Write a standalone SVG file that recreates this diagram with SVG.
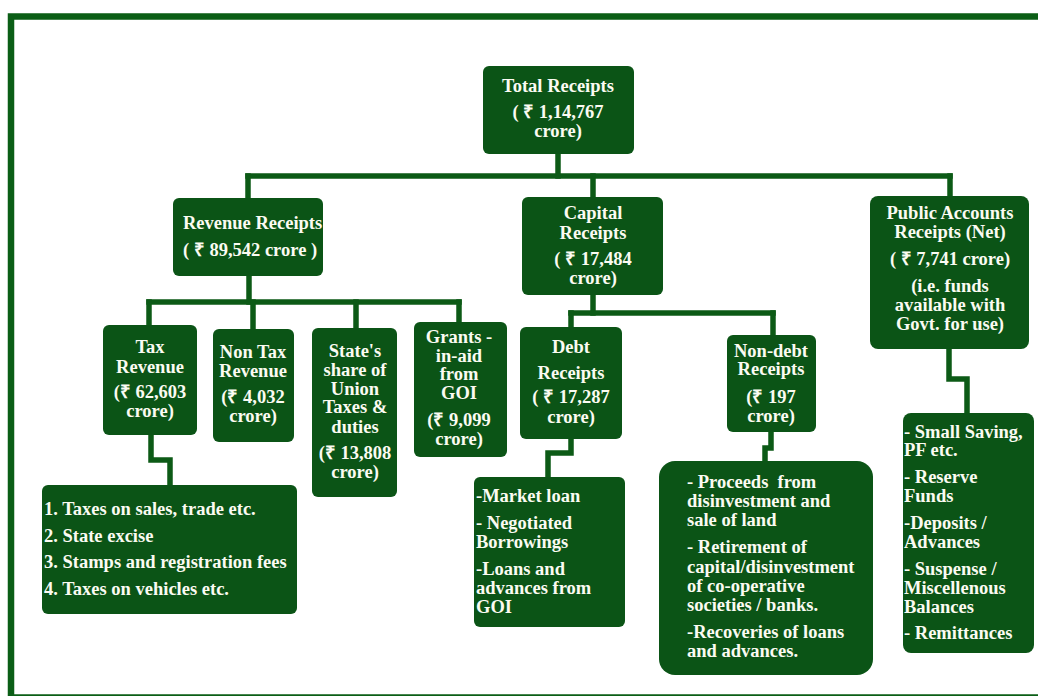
<svg xmlns="http://www.w3.org/2000/svg" width="1038" height="696" viewBox="0 0 1038 696">
<style>
.box{fill:#0b5416;}
.t{font-family:"Liberation Serif","Times New Roman",serif;font-weight:bold;font-size:18.5px;fill:#fbfbf2;}
.c{text-anchor:middle;}
.conn path{fill:none;stroke:#0c5a16;stroke-width:5.5;stroke-linecap:square;stroke-linejoin:miter;}
</style>
<rect width="1038" height="696" fill="#ffffff"/>
<rect x="11" y="16.5" width="1040" height="681" fill="none" stroke="#0b5e16" stroke-width="6.5"/>
<g id="connectors" class="conn">
<path d="M558,154 V176"/>
<path d="M248,176 H950"/>
<path d="M248,176 V198"/>
<path d="M593,176 V197"/>
<path d="M950,176 V196"/>
<path d="M249,276 V302"/>
<path d="M149,302 H459"/>
<path d="M149,302 V325"/>
<path d="M253,302 V329"/>
<path d="M356,302 V328"/>
<path d="M459,302 V322"/>
<path d="M151,435 V460 H170 V485"/>
<path d="M593,295 V313"/>
<path d="M571,313 H773"/>
<path d="M571,313 V327"/>
<path d="M773,313 V335"/>
<path d="M571,439 V453 H548 V477"/>
<path d="M771,432 V448 H765 V461"/>
<path d="M949,349 V379 H967 V413"/>
</g>
<g id="total">
<rect class="box" x="483" y="66" width="151" height="88" rx="6"/>
<text class="t c"><tspan x="558" y="92">Total Receipts</tspan><tspan x="558" y="118">( ₹ 1,14,767</tspan><tspan x="558" y="137">crore)</tspan></text>
</g>
<g id="revenue">
<rect class="box" x="173" y="198" width="150" height="78" rx="6"/>
<text class="t"><tspan x="183" y="229">Revenue Receipts</tspan><tspan x="183" y="256">( ₹ 89,542 crore )</tspan></text>
</g>
<g id="capital">
<rect class="box" x="522" y="197" width="141" height="98" rx="6"/>
<text class="t c"><tspan x="593" y="219">Capital</tspan><tspan x="593" y="239">Receipts</tspan><tspan x="593" y="265">( ₹ 17,484</tspan><tspan x="593" y="284">crore)</tspan></text>
</g>
<g id="public">
<rect class="box" x="870" y="196" width="159" height="153" rx="8"/>
<text class="t c"><tspan x="950" y="219">Public Accounts</tspan><tspan x="950" y="238">Receipts (Net)</tspan><tspan x="950" y="265">( ₹ 7,741 crore)</tspan><tspan x="950" y="292">(i.e. funds</tspan><tspan x="950" y="311">available with</tspan><tspan x="950" y="330">Govt. for use)</tspan></text>
</g>
<g id="tax">
<rect class="box" x="103" y="325" width="94" height="110" rx="6"/>
<text class="t c"><tspan x="150" y="353">Tax</tspan><tspan x="150" y="373">Revenue</tspan><tspan x="150" y="398">(₹ 62,603</tspan><tspan x="150" y="417">crore)</tspan></text>
</g>
<g id="nontax">
<rect class="box" x="213" y="329" width="81" height="113" rx="6"/>
<text class="t c"><tspan x="253" y="358">Non Tax</tspan><tspan x="253" y="377">Revenue</tspan><tspan x="253" y="403">(₹ 4,032</tspan><tspan x="253" y="422">crore)</tspan></text>
</g>
<g id="stateshare">
<rect class="box" x="312" y="328" width="85" height="169" rx="6"/>
<text class="t c"><tspan x="355" y="357">State's</tspan><tspan x="355" y="376">share of</tspan><tspan x="355" y="395">Union</tspan><tspan x="355" y="413">Taxes &amp;</tspan><tspan x="355" y="433">duties</tspan><tspan x="355" y="459">(₹ 13,808</tspan><tspan x="355" y="478">crore)</tspan></text>
</g>
<g id="grants">
<rect class="box" x="414" y="322" width="93" height="135" rx="6"/>
<text class="t c"><tspan x="459" y="343">Grants -</tspan><tspan x="459" y="362">in-aid</tspan><tspan x="459" y="380">from</tspan><tspan x="459" y="399">GOI</tspan><tspan x="459" y="426">(₹ 9,099</tspan><tspan x="459" y="445">crore)</tspan></text>
</g>
<g id="debt">
<rect class="box" x="520" y="327" width="102" height="112" rx="6"/>
<text class="t c"><tspan x="571" y="353">Debt</tspan><tspan x="571" y="379">Receipts</tspan><tspan x="571" y="403">( ₹ 17,287</tspan><tspan x="571" y="423">crore)</tspan></text>
</g>
<g id="nondebt">
<rect class="box" x="727" y="335" width="89" height="97" rx="6"/>
<text class="t c"><tspan x="771" y="357">Non-debt</tspan><tspan x="771" y="375">Receipts</tspan><tspan x="771" y="403">(₹ 197</tspan><tspan x="771" y="422">crore)</tspan></text>
</g>
<g id="taxlist">
<rect class="box" x="42" y="485" width="255" height="129" rx="6"/>
<text class="t"><tspan x="44" y="515">1. Taxes on sales, trade etc.</tspan><tspan x="44" y="542">2. State excise</tspan><tspan x="44" y="568">3. Stamps and registration fees</tspan><tspan x="44" y="595">4. Taxes on vehicles etc.</tspan></text>
</g>
<g id="debtlist">
<rect class="box" x="474" y="477" width="151" height="150" rx="6"/>
<text class="t"><tspan x="476" y="502">-Market loan</tspan><tspan x="476" y="529">- Negotiated</tspan><tspan x="476" y="548">Borrowings</tspan><tspan x="476" y="575">-Loans and</tspan><tspan x="476" y="594">advances from</tspan><tspan x="476" y="613">GOI</tspan></text>
</g>
<g id="nondebtlist">
<rect class="box" x="659" y="461" width="214" height="214" rx="16"/>
<text class="t" xml:space="preserve"><tspan x="687" y="488">- Proceeds  from</tspan><tspan x="687" y="507">disinvestment and</tspan><tspan x="687" y="526">sale of land</tspan><tspan x="687" y="553">- Retirement of</tspan><tspan x="687" y="573">capital/disinvestment</tspan><tspan x="687" y="592">of co-operative</tspan><tspan x="687" y="611">societies / banks.</tspan><tspan x="687" y="638">-Recoveries of loans</tspan><tspan x="687" y="657">and advances.</tspan></text>
</g>
<g id="publiclist">
<rect class="box" x="903" y="413" width="131" height="240" rx="8"/>
<text class="t"><tspan x="904" y="438">- Small Saving,</tspan><tspan x="904" y="456">PF etc.</tspan><tspan x="904" y="483">- Reserve</tspan><tspan x="904" y="502">Funds</tspan><tspan x="904" y="529">-Deposits /</tspan><tspan x="904" y="548">Advances</tspan><tspan x="904" y="575">- Suspense /</tspan><tspan x="904" y="594">Miscellenous</tspan><tspan x="904" y="613">Balances</tspan><tspan x="904" y="639">- Remittances</tspan></text>
</g>
</svg>
